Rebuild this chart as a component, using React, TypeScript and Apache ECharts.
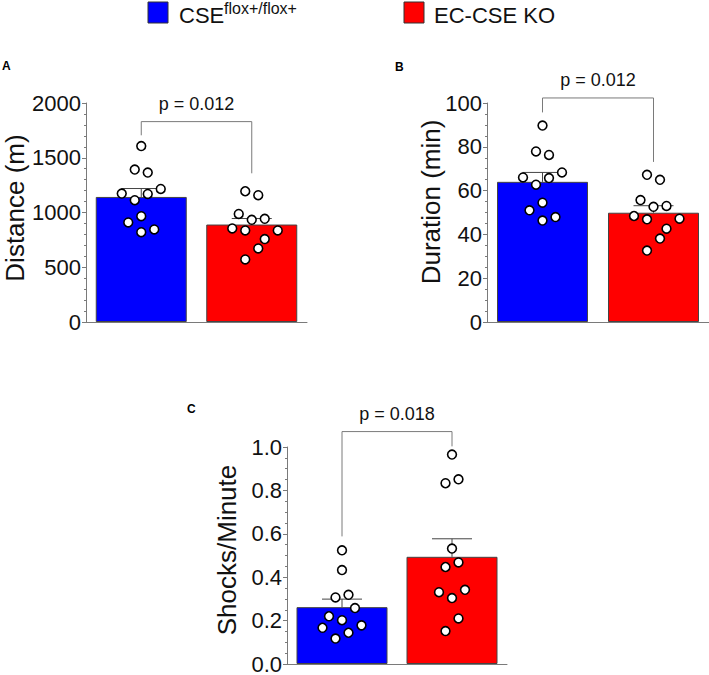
import React, { useEffect, useRef } from "react";
import * as echarts from "echarts";

// ---------- data ----------
const categories = ["CSE flox+/flox+", "EC-CSE KO"];

// Panel A: Distance (m)
const distanceCtl = [1607, 1392, 1365, 1215, 1173, 1170, 1112, 966, 909, 845, 820];
const distanceCtlSlot = [0, -1, 1, 3, -3, 1, -1, 0, -2, 2, 0];
const distanceKO = [1194, 1158, 987, 933, 942, 854, 836, 836, 757, 672, 571];
const distanceKOSlot = [-1, 1, -2, 0, 2, -3, -1, 4, 2, 1, -1];
const distanceMean = [1142, 890];
const distanceSem = [77, 55];

// Panel B: Duration (min)
const durationCtl = [89.7, 77.9, 76.3, 68.3, 66.0, 65.7, 62.7, 54.5, 51.0, 47.9, 46.3];
const durationCtlSlot = [0, -1, 1, 3, -3, 1, -1, 0, -2, 2, 0];
const durationKO = [67.2, 64.9, 55.7, 52.6, 53.0, 48.4, 46.9, 47.2, 42.6, 38.1, 32.6];
const durationKOSlot = [-1, 1, -2, 0, 2, -3, -1, 4, 2, 1, -1];
const durationMean = [64.0, 49.9];
const durationSem = [4.3, 3.2];

// Panel C: Shocks/Minute
const shocksCtl = [0.524, 0.433, 0.319, 0.307, 0.258, 0.22, 0.202, 0.178, 0.167, 0.144, 0.117];
const shocksCtlSlot = [0, 0, 1, -1, 2, -2, 0, 3, -3, 1, -1];
const shocksKO = [0.965, 0.851, 0.833, 0.532, 0.468, 0.447, 0.342, 0.331, 0.304, 0.21, 0.152];
const shocksKOSlot = [0, 1, -1, 0, 1, -1, 2, -2, 0, 1, -1];
const shocksMean = [0.262, 0.494];
const shocksSem = [0.037, 0.083];

// significance brackets
const pLabels = ["p = 0.012", "p = 0.012", "p = 0.018"];
const bracketTop = [1830, 102.3, 1.071];
const bracketLeftEnd = [1705, 95.7, 0.588];
const bracketRightEnd = [1358, 73.1, 1.003];

// axes
const yMax = [2000, 100, 1.0];
const yInterval = [500, 20, 0.2];
const yMinorSplit = [5, 4, 4];
const yNames = ["Distance (m)", "Duration (min)", "Shocks/Minute"];
const panelLetters = ["A", "B", "C"];

const FONT = "'Liberation Sans', Arial, Helvetica, sans-serif";
const BLUE = "#0000FF";
const RED = "#FF0000";
const AXIS_GRAY = "#7a7a7a";
const SLOT_PX = 6.5;

export default function App() {
  const ref = useRef<HTMLDivElement>(null);

  useEffect(() => {
    if (!ref.current) return;
    const chart = echarts.init(ref.current, null, { renderer: "svg" });

    const panels = [
      { ctl: distanceCtl, ctlSlot: distanceCtlSlot, ko: distanceKO, koSlot: distanceKOSlot, mean: distanceMean, sem: distanceSem, fmt: (v: number) => String(v) },
      { ctl: durationCtl, ctlSlot: durationCtlSlot, ko: durationKO, koSlot: durationKOSlot, mean: durationMean, sem: durationSem, fmt: (v: number) => String(v) },
      { ctl: shocksCtl, ctlSlot: shocksCtlSlot, ko: shocksKO, koSlot: shocksKOSlot, mean: shocksMean, sem: shocksSem, fmt: (v: number) => v.toFixed(1) },
    ];

    const grids = [
      { left: 86, top: 103, width: 221, height: 219 },
      { left: 487, top: 103, width: 222, height: 219 },
      { left: 287, top: 447, width: 220, height: 220 },
    ];

    const xAxes = grids.map((_, i) => ({
      type: "category",
      gridIndex: i,
      data: categories,
      boundaryGap: true,
      axisLine: { show: true, lineStyle: { color: AXIS_GRAY, width: 1 } },
      axisTick: { show: false },
      axisLabel: { show: false },
      splitLine: { show: false },
    }));

    const yAxes = grids.map((_, i) => ({
      type: "value",
      gridIndex: i,
      min: 0,
      max: yMax[i],
      interval: yInterval[i],
      axisLine: { show: true, lineStyle: { color: AXIS_GRAY, width: 1 } },
      axisTick: { show: true, length: 4, lineStyle: { color: AXIS_GRAY } },
      minorTick: { show: true, splitNumber: yMinorSplit[i], length: 2, lineStyle: { color: AXIS_GRAY } },
      splitLine: { show: false },
      axisLabel: {
        fontSize: 22,
        fontFamily: FONT,
        color: "#111",
        margin: 5,
        formatter: panels[i].fmt,
      },
    }));

    const series: any[] = [];
    panels.forEach((p, i) => {
      series.push({
        type: "bar",
        xAxisIndex: i,
        yAxisIndex: i,
        barWidth: 91,
        z: 2,
        data: [
          { value: p.mean[0], itemStyle: { color: BLUE, borderColor: "#444", borderWidth: 1 } },
          { value: p.mean[1], itemStyle: { color: RED, borderColor: "#444", borderWidth: 1 } },
        ],
      });
      // error bars (SEM, upward)
      series.push({
        type: "custom",
        xAxisIndex: i,
        yAxisIndex: i,
        z: 3,
        data: p.mean.map((m, k) => [k, m, m + p.sem[k]]),
        renderItem: (params: any, api: any) => {
          const a = api.coord([api.value(0), api.value(1)]);
          const b = api.coord([api.value(0), api.value(2)]);
          const half = 20;
          return {
            type: "group",
            children: [
              { type: "line", shape: { x1: a[0], y1: a[1], x2: b[0], y2: b[1] }, style: { stroke: "#444", lineWidth: 1 } },
              { type: "line", shape: { x1: b[0] - half, y1: b[1], x2: b[0] + half, y2: b[1] }, style: { stroke: "#444", lineWidth: 1 } },
            ],
          };
        },
      });
      // individual points
      const pts: number[][] = [];
      p.ctl.forEach((v, k) => pts.push([0, v, p.ctlSlot[k]]));
      p.ko.forEach((v, k) => pts.push([1, v, p.koSlot[k]]));
      series.push({
        type: "custom",
        xAxisIndex: i,
        yAxisIndex: i,
        z: 4,
        data: pts,
        renderItem: (params: any, api: any) => {
          const c = api.coord([api.value(0), api.value(1)]);
          return {
            type: "circle",
            shape: { cx: c[0] + api.value(2) * SLOT_PX, cy: c[1], r: 4.4 },
            style: { fill: "#fff", stroke: "#000", lineWidth: 1.6 },
          };
        },
      });
      // significance bracket
      series.push({
        type: "custom",
        xAxisIndex: i,
        yAxisIndex: i,
        z: 5,
        data: [[0, bracketTop[i], bracketLeftEnd[i], bracketRightEnd[i]]],
        renderItem: (params: any, api: any) => {
          const lt = api.coord([0, api.value(1)]);
          const rt = api.coord([1, api.value(1)]);
          const le = api.coord([0, api.value(2)]);
          const re = api.coord([1, api.value(3)]);
          return {
            type: "group",
            children: [
              {
                type: "polyline",
                shape: { points: [[le[0], le[1]], [lt[0], lt[1]], [rt[0], rt[1]], [re[0], re[1]]] },
                style: { stroke: AXIS_GRAY, lineWidth: 1, fill: "none" },
              },
              {
                type: "text",
                x: (lt[0] + rt[0]) / 2,
                y: lt[1] - 18,
                style: {
                  text: pLabels[i],
                  fontSize: 18,
                  fontFamily: FONT,
                  fill: "#111",
                  align: "center",
                  verticalAlign: "middle",
                  textAlign: "center",
                  textVerticalAlign: "middle",
                },
              },
            ],
          };
        },
      });
    });

    const titlePos = [
      [15, 208],
      [431, 202],
      [227, 550],
    ];
    const letterPos = [
      [2, 66],
      [395, 67],
      [187, 409],
    ];

    const graphic: any[] = [];
    yNames.forEach((name, i) => {
      graphic.push({
        type: "text",
        x: titlePos[i][0],
        y: titlePos[i][1],
        rotation: Math.PI / 2,
        style: {
          text: name,
          fontSize: 26,
          fontFamily: FONT,
          fill: "#111",
          align: "center",
          verticalAlign: "middle",
          textAlign: "center",
          textVerticalAlign: "middle",
        },
      });
      graphic.push({
        type: "text",
        x: letterPos[i][0],
        y: letterPos[i][1],
        style: {
          text: panelLetters[i],
          fontSize: 12,
          fontWeight: "bold",
          fontFamily: FONT,
          fill: "#000",
          verticalAlign: "middle",
          textVerticalAlign: "middle",
        },
      });
    });

    // legend
    graphic.push(
      { type: "rect", shape: { x: 148, y: 2, width: 20, height: 21 }, style: { fill: BLUE, stroke: "#333", lineWidth: 1 } },
      { type: "text", x: 179, y: 15, style: { text: "CSE", fontSize: 22, fontFamily: FONT, fill: "#111", verticalAlign: "middle", textVerticalAlign: "middle" } },
      { type: "text", x: 224, y: 8, style: { text: "flox+/flox+", fontSize: 16, fontFamily: FONT, fill: "#111", verticalAlign: "middle", textVerticalAlign: "middle" } },
      { type: "rect", shape: { x: 404, y: 2, width: 20, height: 21 }, style: { fill: RED, stroke: "#333", lineWidth: 1 } },
      { type: "text", x: 434, y: 15, style: { text: "EC-CSE KO", fontSize: 22, fontFamily: FONT, fill: "#111", verticalAlign: "middle", textVerticalAlign: "middle" } }
    );

    chart.setOption({
      animation: false,
      backgroundColor: "#fff",
      grid: grids,
      xAxis: xAxes,
      yAxis: yAxes,
      series,
      graphic,
    });

    return () => {
      chart.dispose();
    };
  }, []);

  return (
    <div
      ref={ref}
      style={{ position: "fixed", left: 0, top: 0, width: 709, height: 675, background: "#fff" }}
    />
  );
}
